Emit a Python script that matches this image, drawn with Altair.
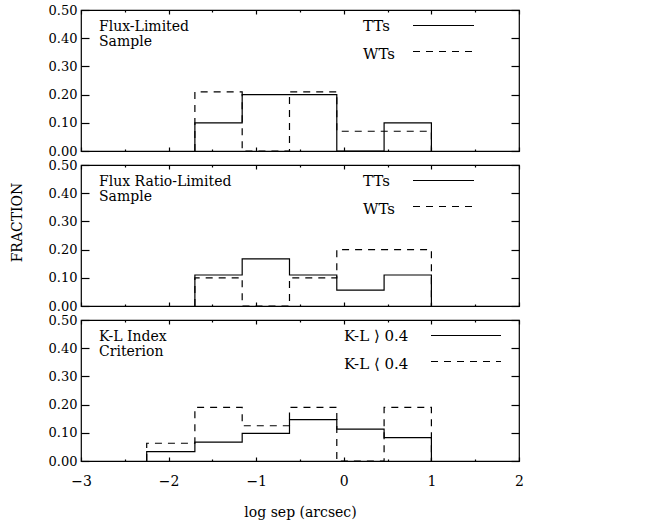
import altair as alt
import pandas as pd

# ---- data ----
edges_a = [-1.70, -1.16, -0.62, -0.08, 0.46, 1.00]
edges_b = [-2.25, -1.70, -1.16, -0.62, -0.08, 0.46, 1.00]

p1_tt = [0.10, 0.20, 0.20, 0.00, 0.10]
p1_wt = [0.21, 0.00, 0.21, 0.07, 0.07]
p2_tt = [0.11, 0.167, 0.11, 0.056, 0.11]
p2_wt = [0.10, 0.00, 0.10, 0.20, 0.20]
p3_tt = [0.033, 0.067, 0.098, 0.147, 0.113, 0.083]
p3_wt = [0.063, 0.19, 0.125, 0.19, 0.00, 0.19]

x_major = [-3, -2, -1, 0, 1, 2]
x_minor = [-2.5, -1.5, -0.5, 0.5, 1.5]
y_ticks = [0.0, 0.1, 0.2, 0.3, 0.4, 0.5]

FONT = "DejaVu Serif"
W, H = 438, 141


def step_df(edges, vals):
    xs = [edges[0]] + list(edges[:-1]) + [edges[-1]]
    ys = [0.0] + list(vals) + [0.0]
    return pd.DataFrame({"x": xs, "y": ys, "i": list(range(len(xs)))})


xscale = alt.Scale(domain=[-3, 2], nice=False, zero=False)
yscale = alt.Scale(domain=[0, 0.5], nice=False, zero=False)


def text(lines, x, y, size=14):
    return alt.Chart(pd.DataFrame({"a": [0]})).mark_text(
        font=FONT, fontSize=size, align="left", baseline="alphabetic", color="black",
        lineHeight=14.5,
    ).encode(text=alt.value(lines), x=alt.value(x), y=alt.value(y))


def rule(x1, x2, y, dash=None):
    kw = dict(color="black", strokeWidth=1.2)
    if dash:
        kw["strokeDash"] = dash
    return alt.Chart(pd.DataFrame({"a": [0]})).mark_rule(**kw).encode(
        x=alt.value(x1), x2=alt.value(x2), y=alt.value(y)
    )


def panel(edges, tt, wt, label, leg1, leg2, bottom=False, ytitle=None, kl=False):
    tt_df = step_df(edges, tt)
    wt_df = step_df(edges, wt)
    xb = alt.Axis(values=x_major, tickSize=4, offset=-4, domain=False, grid=False,
                  labels=bottom, labelFlush=False, labelPadding=13, labelFontSize=14,
                  title="log sep (arcsec)" if bottom else None, titlePadding=17,
                  orient="bottom")
    yl_kw = dict(values=y_ticks, format=".2f", tickSize=8, offset=-8, domain=False,
                 grid=False, labelPadding=4, labelFontSize=13, orient="left")
    if ytitle:
        yl = alt.Axis(title=ytitle, titlePadding=24, titleY=57, **yl_kw)
    else:
        yl = alt.Axis(title=None, **yl_kw)
    tt_line = alt.Chart(tt_df).mark_line(
        interpolate="step-after", color="black", strokeWidth=1.2
    ).encode(
        x=alt.X("x:Q", scale=xscale, axis=xb),
        y=alt.Y("y:Q", scale=yscale, axis=yl),
        order="i:Q",
    )
    wt_line = alt.Chart(wt_df).mark_line(
        interpolate="step-after", color="black", strokeWidth=1.2, strokeDash=[7, 6]
    ).encode(
        x=alt.X("x:Q", scale=xscale,
                axis=alt.Axis(values=x_major, tickSize=4, offset=-4, domain=False,
                              grid=False, labels=False, title=None, orient="top")),
        y=alt.Y("y:Q", scale=yscale,
                axis=alt.Axis(values=y_ticks, tickSize=8, offset=-8, domain=False,
                              grid=False, labels=False, title=None, orient="right")),
        order="i:Q",
    )
    minor_b = alt.Chart(tt_df).mark_line(opacity=0).encode(
        x=alt.X("x:Q", scale=xscale,
                axis=alt.Axis(values=x_minor, tickSize=2, offset=-2, domain=False,
                              grid=False, labels=False, title=None, orient="bottom")),
        y=alt.Y("y:Q", scale=yscale, axis=None),
    )
    minor_t = alt.Chart(tt_df).mark_line(opacity=0).encode(
        x=alt.X("x:Q", scale=xscale,
                axis=alt.Axis(values=x_minor, tickSize=2, offset=-2, domain=False,
                              grid=False, labels=False, title=None, orient="top")),
        y=alt.Y("y:Q", scale=yscale, axis=None),
    )
    if kl:
        lx, rx1, rx2 = 263, 350, 420
    else:
        lx, rx1, rx2 = 282, 332, 393
    layers = [
        tt_line, wt_line, minor_b, minor_t,
        text(label, 18, 21, size=14),
        text(leg1, lx, 21, size=15), text(leg2, lx, 49, size=15),
        rule(rx1, rx2, 15.5), rule(rx1, rx2, 41.5, dash=[7, 6]),
    ]
    return alt.layer(*layers).properties(width=W, height=H).resolve_axis(
        x="independent", y="independent"
    )


p1 = panel(edges_a, p1_tt, p1_wt, ["Flux-Limited", "Sample"], "TTs", "WTs")
p2 = panel(edges_a, p2_tt, p2_wt, ["Flux Ratio-Limited", "Sample"], "TTs", "WTs",
           ytitle="FRACTION")
p3 = panel(edges_b, p3_tt, p3_wt, ["K-L  Index", "Criterion"],
           "K-L \u27e9 0.4", "K-L \u27e8 0.4", bottom=True, kl=True)

chart = alt.vconcat(p1, p2, p3, spacing=14, bounds="flush").properties(
    padding={"left": 9, "top": 3, "right": 5, "bottom": 2},
    background="white",
).configure_view(stroke="black", strokeWidth=1.2).configure_axis(
    labelFont=FONT, titleFont=FONT, labelColor="black", titleColor="black",
    tickColor="black", titleFontWeight="normal", titleFontSize=14, labelOverlap=False,
    tickWidth=1.2,
)

chart.save("out.html", embed_options={"renderer": "svg", "actions": False})
